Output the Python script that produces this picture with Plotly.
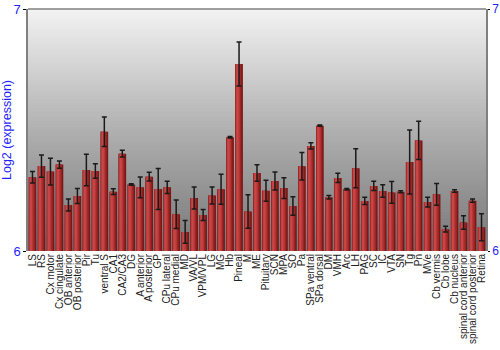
import plotly.graph_objects as go

regions = ["LS", "RS", "Cx motor", "Cx cingulate", "OB anterior", "OB posterior", "Pir", "Tu",
           "ventral S", "CA1", "CA2/CA3", "DG", "A anterior", "A posterior", "GP", "CPu lateral",
           "CPu medial", "MD", "VA/VL", "VPM/VPL", "LG", "MG", "Hb", "Pineal", "M", "ME",
           "Pituitary", "SCN", "MPA", "SO", "Pa", "SPa ventral", "SPa dorsal", "DM", "VMH", "Arc",
           "LH", "PAG", "SC", "IC", "VTA", "SN", "Tg", "Pn", "MVe", "Cb vermis", "Cb lobe",
           "Cb nucleus", "spinal cord anterior", "spinal cord posterior", "Retina"]

expression = [6.305, 6.351, 6.328, 6.357, 6.190, 6.227, 6.335, 6.331, 6.493, 6.245, 6.402, 6.275,
              6.263, 6.307, 6.256, 6.263, 6.152, 6.079, 6.219, 6.149, 6.229, 6.255, 6.470, 6.773,
              6.163, 6.322, 6.249, 6.289, 6.260, 6.186, 6.350, 6.434, 6.518, 6.222, 6.302, 6.255,
              6.342, 6.207, 6.269, 6.248, 6.242, 6.245, 6.368, 6.457, 6.202, 6.234, 6.090, 6.248,
              6.118, 6.208, 6.098]

errors = [0.024, 0.046, 0.055, 0.015, 0.025, 0.031, 0.065, 0.030, 0.061, 0.012, 0.014, 0.003,
          0.043, 0.018, 0.085, 0.025, 0.059, 0.047, 0.045, 0.023, 0.035, 0.062, 0.003, 0.091,
          0.069, 0.034, 0.043, 0.037, 0.043, 0.038, 0.057, 0.013, 0.003, 0.007, 0.019, 0.003,
          0.081, 0.015, 0.019, 0.026, 0.045, 0.004, 0.132, 0.079, 0.020, 0.045, 0.012, 0.005,
          0.028, 0.007, 0.056]

y_ticks = [6, 7]
y_title = "Log2 (expression)"

fig = go.Figure()

# bar layers to simulate a horizontal gradient (dark edges, light left-centre)
layers = [
    (-0.43, 0.86, "#7a1818"),
    (-0.40, 0.66, "#9c2626"),
    (-0.36, 0.46, "#b53636"),
    (-0.30, 0.24, "#c84646"),
]
for off, w, col in layers:
    fig.add_trace(go.Bar(
        x=regions, y=expression, offset=off, width=w,
        marker=dict(color=col, line=dict(width=0)),
        hoverinfo="skip", showlegend=False,
    ))

fig.add_trace(go.Scatter(
    x=regions, y=expression, mode="markers",
    marker=dict(size=1, opacity=0),
    error_y=dict(type="data", array=errors, visible=True,
                 color="#1a1a1a", thickness=1.5, width=2.5),
    hoverinfo="skip", showlegend=False,
))

# dummy trace for right-side axis
fig.add_trace(go.Scatter(x=[regions[0]], y=[6.5], yaxis="y2", mode="markers",
                         marker=dict(opacity=0), hoverinfo="skip", showlegend=False))

# gradient background bands
stops = [(0.0, (118, 118, 118)), (0.5, (176, 176, 176)), (1.0, (243, 243, 243))]
def col_at(t):
    for (t0, c0), (t1, c1) in zip(stops[:-1], stops[1:]):
        if t0 <= t <= t1:
            f = (t - t0) / (t1 - t0)
            return "rgb(%d,%d,%d)" % tuple(round(a + (b - a) * f) for a, b in zip(c0, c1))
    return "rgb(243,243,243)"

n = 80
shapes = []
for i in range(n):
    y0 = i / n
    y1 = (i + 1) / n
    shapes.append(dict(type="rect", xref="x domain", yref="y domain",
                       x0=0, x1=1, y0=y0, y1=y1 + 0.002, layer="below",
                       line=dict(width=0), fillcolor=col_at((y0 + y1) / 2)))
shapes.append(dict(type="line", xref="x domain", yref="y domain", x0=0, x1=1, y0=1, y1=1,
                   line=dict(color="#808080", width=1.5)))

blue = "#1f1fff"
fig.update_layout(
    width=500, height=350,
    margin=dict(l=28, r=14, t=9, b=99),
    paper_bgcolor="white", plot_bgcolor="#b0b0b0",
    barmode="overlay", bargap=0.15,
    font=dict(family="Liberation Sans, Arial, sans-serif"),
    shapes=shapes,
    xaxis=dict(tickangle=-90, showgrid=False, zeroline=False, showline=False,
               tickmode="array", tickvals=regions, ticktext=regions,
               ticks="", tickfont=dict(size=10, color="#222222"), fixedrange=True,
               range=[-0.5, len(regions) - 0.5], automargin=False),
    yaxis=dict(range=[6, 7], tickvals=y_ticks, ticktext=[str(v) for v in y_ticks],
               showgrid=False, zeroline=False, showline=True, linecolor="#808080",
               linewidth=1.5, ticks="outside", ticklen=3, tickcolor="#000000",
               tickfont=dict(size=13, color=blue), automargin=False,
               title=dict(text=y_title, font=dict(size=12.5, color=blue), standoff=2)),
    yaxis2=dict(range=[6, 7], tickvals=y_ticks, ticktext=[str(v) for v in y_ticks],
                overlaying="y", side="right", showgrid=False, zeroline=False,
                showline=True, linecolor="#808080", linewidth=1.5, automargin=False,
                ticks="outside", ticklen=2, tickcolor="#000000",
                tickfont=dict(size=12, color=blue)),
)

fig.write_html("out.html")
